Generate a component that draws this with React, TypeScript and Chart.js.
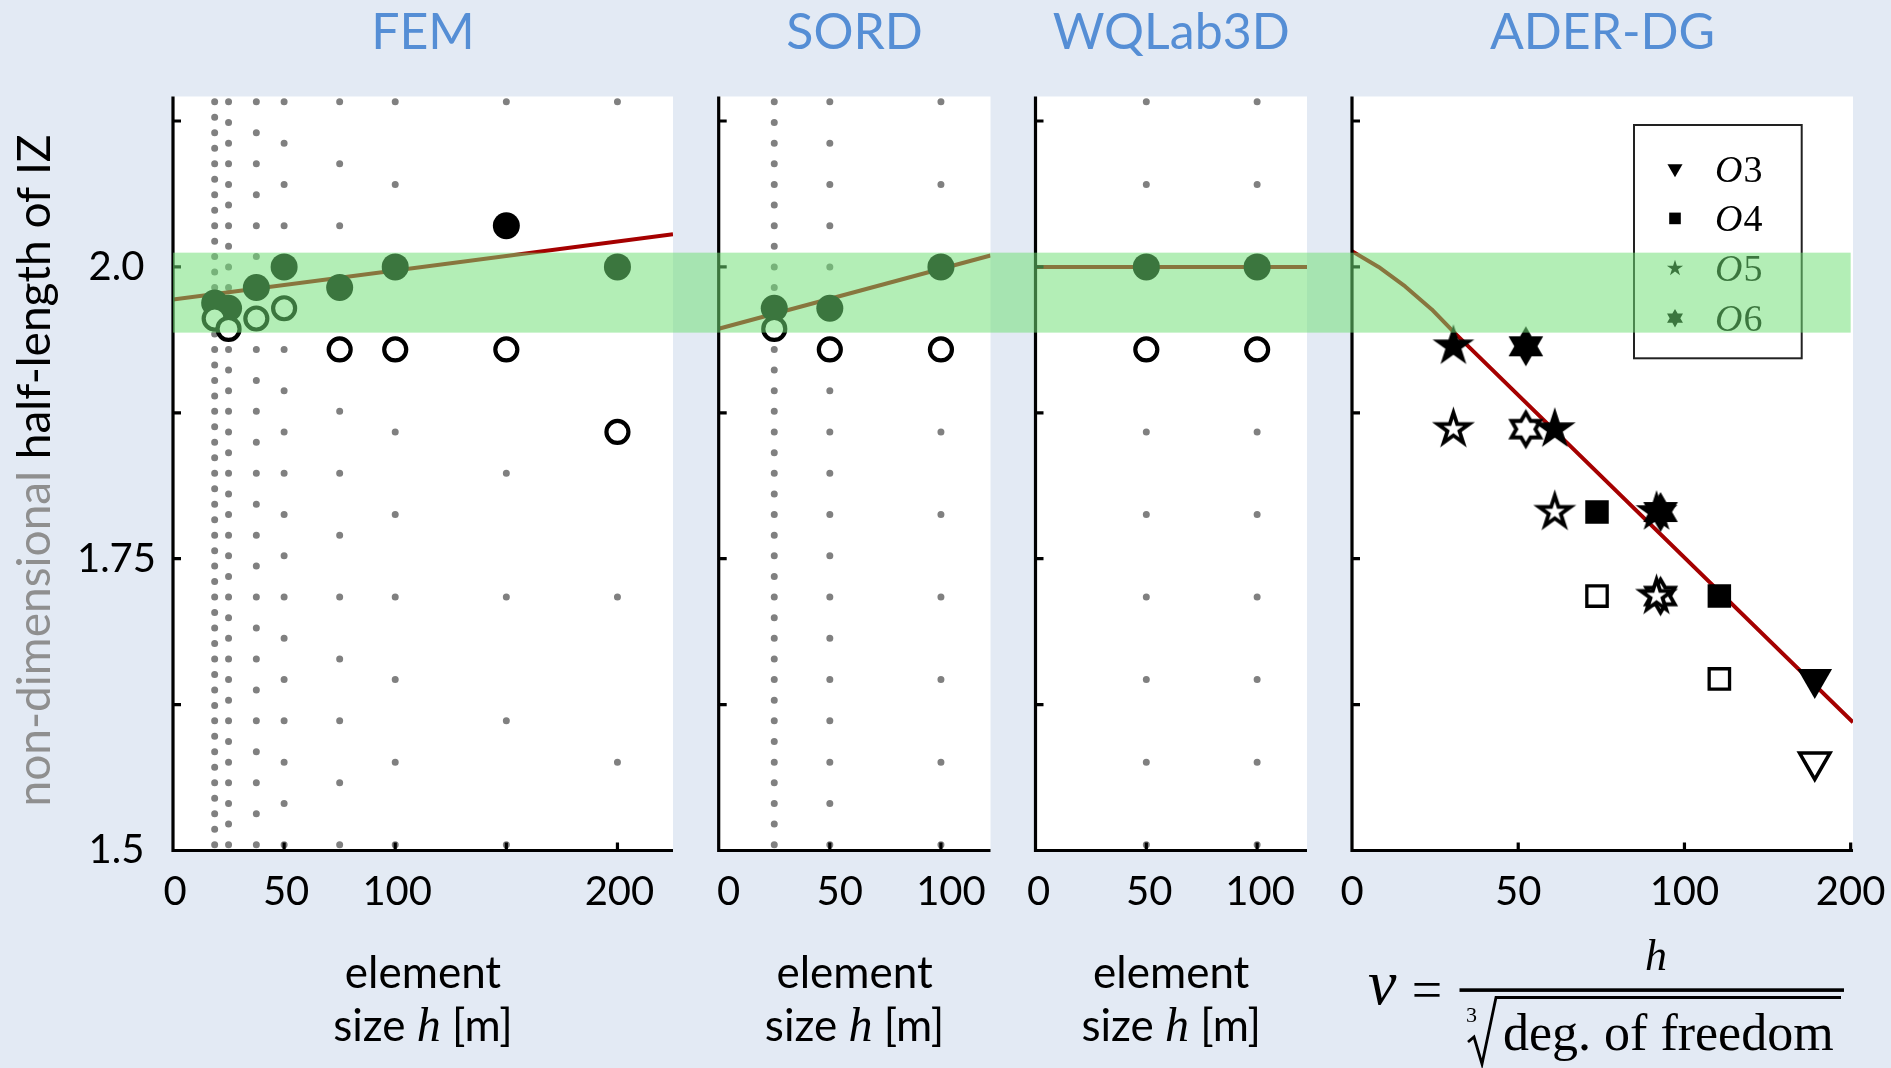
import React, { useEffect, useRef } from 'react';
import { Chart, registerables } from 'chart.js';

Chart.register(...registerables);

// ---------------- figure data ----------------
const Y_MIN = 1.5;
const Y_MAX = 2.146;
const Y_TICKS = [1.5, 1.625, 1.75, 1.875, 2.0, 2.125];
const Y_TICK_TEXT: Record<string, string> = { '1.5': '1.5', '1.75': '1.75', '2': '2.0' };
const IZ_BAND = [1.9437, 2.0122];

// mesh-node columns (dot spacing = grid step in metres)
const GRID_TOP = 2.1414;
const GRID_M_PER_UNIT = 1414.2;

// FEM
const FEM_H = [18.75, 25, 37.5, 50, 75, 100, 150, 200];
const FEM_FILLED = [1.969, 1.9646, 1.9823, 2.0, 1.9823, 2.0, 2.0353, 2.0];
const FEM_OPEN = [1.9558, 1.9469, 1.9558, 1.9646, 1.9293, 1.9293, 1.9293, 1.8586];
const FEM_GRID_STEP = [18.75, 25, 37.5, 50, 75, 100, 150, 200];
const FEM_FIT_X = [0, 225];
const FEM_FIT_Y = [1.972, 2.028];
const FEM_X_TICKS = [0, 50, 100, 150, 200];
const FEM_X_LABELS = ['0', '50', '100', '', '200'];

// SORD
const SORD_H = [25, 50, 100];
const SORD_FILLED = [1.9646, 1.9646, 2.0];
const SORD_OPEN = [1.9469, 1.9293, 1.9293];
const SORD_GRID_STEP = [25, 50, 100];
const SORD_FIT_X = [0, 122.3];
const SORD_FIT_Y = [1.947, 2.0098];
const SORD_X_TICKS = [0, 50, 100];
const SORD_X_LABELS = ['0', '50', '100'];

// WQLab3D
const WQ_H = [50, 100];
const WQ_FILLED = [2.0, 2.0];
const WQ_OPEN = [1.9293, 1.9293];
const WQ_GRID_STEP = [100, 100];
const WQ_FIT_X = [0, 122.5];
const WQ_FIT_Y = [2.0, 2.0];
const WQ_X_TICKS = [0, 50, 100];
const WQ_X_LABELS = ['0', '50', '100'];

// ADER-DG
const ADER_FIT_X = [0, 8, 16, 24, 31, 150.7];
const ADER_FIT_Y = [2.0135, 2.0, 1.9833, 1.9636, 1.943, 1.6098];
const ADER_O3_FILLED_X = [139.2];
const ADER_O3_FILLED_Y = [1.647];
const ADER_O3_OPEN_X = [139.2];
const ADER_O3_OPEN_Y = [1.576];
const ADER_O4_FILLED_X = [73.7, 110.5];
const ADER_O4_FILLED_Y = [1.79, 1.718];
const ADER_O4_OPEN_X = [73.7, 110.5];
const ADER_O4_OPEN_Y = [1.718, 1.647];
const ADER_O5_FILLED_X = [30.5, 61.0, 91.6];
const ADER_O5_FILLED_Y = [1.932, 1.861, 1.79];
const ADER_O5_OPEN_X = [30.5, 61.0, 91.6];
const ADER_O5_OPEN_Y = [1.861, 1.79, 1.718];
const ADER_O6_FILLED_X = [52.3, 92.8];
const ADER_O6_FILLED_Y = [1.932, 1.79];
const ADER_O6_OPEN_X = [52.3, 92.8];
const ADER_O6_OPEN_Y = [1.861, 1.718];
const ADER_X_TICKS = [0, 50, 100, 150];
const ADER_X_LABELS = ['0', '50', '100', '200'];
const ADER_BAND_END = 150;
const ADER_LEGEND = ['3', '4', '5', '6'];

// ---------------- styling ----------------
const PAGE_W = 1891;
const PAGE_H = 1068;
const AREA_TOP = 96.5;
const AREA_BOTTOM = 850.5;
const BG = '#e3eaf4';
const TITLE_COLOR = '#558ed5';
const FIT_COLOR = '#a50000';
const DOT_COLOR = '#808080';
const BAND_COLOR = 'rgba(111,223,117,0.53)';
const SANS = 'Lato, "Open Sans", "DejaVu Sans", sans-serif';
const SERIF = '"Liberation Serif", "DejaVu Serif", serif';

const pts = (xs: number[], ys: number[]) => xs.map((x, i) => ({ x, y: ys[i] }));

function gridColumns(xs: number[], steps: number[]) {
  return xs.map((x, i) => ({
    label: 'mesh',
    data: [{ x, y: GRID_TOP }, { x, y: Y_MIN }],
    showLine: true,
    pointRadius: 0,
    borderColor: DOT_COLOR,
    borderWidth: 7,
    borderCapStyle: 'round',
    borderDash: (ctx: any) => {
      const ys = ctx.chart && ctx.chart.scales && ctx.chart.scales.y;
      if (!ys) return [];
      const gap = Math.abs(
        ys.getPixelForValue(GRID_TOP) - ys.getPixelForValue(GRID_TOP - steps[i] / GRID_M_PER_UNIT)
      );
      return [0.001, gap - 0.001];
    },
    clip: false,
    order: 10,
  }));
}

function fitLine(xs: number[], ys: number[]) {
  return {
    label: 'fit',
    data: pts(xs, ys),
    showLine: true,
    pointRadius: 0,
    borderColor: FIT_COLOR,
    borderWidth: 4,
    borderJoinStyle: 'round',
    tension: 0,
    order: 8,
  };
}

function circles(xs: number[], ys: number[], filled: boolean) {
  return filled
    ? {
        label: 'filled',
        data: pts(xs, ys),
        pointStyle: 'circle',
        pointRadius: 13.5,
        pointBackgroundColor: '#000',
        pointBorderColor: '#000',
        pointBorderWidth: 0,
        order: 5,
      }
    : {
        label: 'open',
        data: pts(xs, ys),
        pointStyle: 'circle',
        pointRadius: 11,
        pointBackgroundColor: '#fff',
        pointBorderColor: '#000',
        pointBorderWidth: 4.2,
        order: 4,
      };
}

function starPath(g: CanvasRenderingContext2D, cx: number, cy: number, n: number, R: number, r: number) {
  g.beginPath();
  for (let i = 0; i < 2 * n; i++) {
    const rad = i % 2 === 0 ? R : r;
    const ang = -Math.PI / 2 + (i * Math.PI) / n;
    const px = cx + rad * Math.cos(ang);
    const py = cy + rad * Math.sin(ang);
    if (i === 0) g.moveTo(px, py);
    else g.lineTo(px, py);
  }
  g.closePath();
}

function markerCanvas(n: number, R: number, ratio: number, filled: boolean, lw: number) {
  const size = Math.ceil(2 * (R + lw * 2) + 4);
  const c = document.createElement('canvas');
  c.width = size;
  c.height = size;
  const g = c.getContext('2d')!;
  starPath(g, size / 2, size / 2, n, R, R * ratio);
  g.fillStyle = filled ? '#000' : '#fff';
  g.fill();
  if (!filled) {
    g.lineWidth = lw;
    g.strokeStyle = '#000';
    g.lineJoin = 'miter';
    g.miterLimit = 10;
    g.stroke();
  }
  return c;
}

function aderDatasets() {
  const star5F = markerCanvas(5, 22, 0.382, true, 0);
  const star5O = markerCanvas(5, 16.5, 0.382, false, 3.8);
  const hexF = markerCanvas(6, 20, 1 / Math.sqrt(3), true, 0);
  const hexO = markerCanvas(6, 16.5, 1 / Math.sqrt(3), false, 3.8);
  const img = (label: string, xs: number[], ys: number[], style: any, order: number) => ({
    label,
    data: pts(xs, ys),
    pointStyle: style,
    pointRadius: 12,
    order,
  });
  return [
    fitLine(ADER_FIT_X, ADER_FIT_Y),
    {
      label: 'O3 open',
      data: pts(ADER_O3_OPEN_X, ADER_O3_OPEN_Y),
      pointStyle: 'triangle',
      pointRotation: 180,
      pointRadius: 17.5,
      pointBackgroundColor: '#fff',
      pointBorderColor: '#000',
      pointBorderWidth: 3.6,
      order: 6,
    },
    {
      label: 'O3',
      data: pts(ADER_O3_FILLED_X, ADER_O3_FILLED_Y),
      pointStyle: 'triangle',
      pointRotation: 180,
      pointRadius: 20,
      pointBackgroundColor: '#000',
      pointBorderColor: '#000',
      pointBorderWidth: 0,
      order: 3,
    },
    {
      label: 'O4 open',
      data: pts(ADER_O4_OPEN_X, ADER_O4_OPEN_Y),
      pointStyle: 'rect',
      pointRadius: 14.4,
      pointBackgroundColor: '#fff',
      pointBorderColor: '#000',
      pointBorderWidth: 3.3,
      order: 6,
    },
    {
      label: 'O4',
      data: pts(ADER_O4_FILLED_X, ADER_O4_FILLED_Y),
      pointStyle: 'rect',
      pointRadius: 16.6,
      pointBackgroundColor: '#000',
      pointBorderColor: '#000',
      pointBorderWidth: 0,
      order: 3,
    },
    img('O6 open', ADER_O6_OPEN_X, ADER_O6_OPEN_Y, hexO, 7),
    img('O5 open', ADER_O5_OPEN_X, ADER_O5_OPEN_Y, star5O, 6),
    img('O6', ADER_O6_FILLED_X, ADER_O6_FILLED_Y, hexF, 3),
    img('O5', ADER_O5_FILLED_X, ADER_O5_FILLED_Y, star5F, 2),
  ];
}

type PanelDef = {
  id: string;
  title: string;
  canvasX: number;
  canvasW: number;
  areaLeft: number;
  areaRight: number;
  xMax: number;
  xTicks: number[];
  xLabels: string[];
  labelOffset: number;
  yLabels: boolean;
  yTitle?: boolean;
  xTitle?: boolean;
  ader?: boolean;
  bandFromArea?: boolean;
  bandEnd?: number;
  datasets: () => any[];
};

const PANELS: PanelDef[] = [
  {
    id: 'fem',
    title: 'FEM',
    canvasX: 0,
    canvasW: 696,
    areaLeft: 173,
    areaRight: 673,
    xMax: 225,
    xTicks: FEM_X_TICKS,
    xLabels: FEM_X_LABELS,
    labelOffset: 2,
    yLabels: true,
    yTitle: true,
    xTitle: true,
    bandFromArea: true,
    datasets: () => [
      ...gridColumns(FEM_H, FEM_GRID_STEP),
      fitLine(FEM_FIT_X, FEM_FIT_Y),
      circles(FEM_H, FEM_FILLED, true),
      circles(FEM_H, FEM_OPEN, false),
    ],
  },
  {
    id: 'sord',
    title: 'SORD',
    canvasX: 696,
    canvasW: 317,
    areaLeft: 718.7,
    areaRight: 990.5,
    xMax: 122.3,
    xTicks: SORD_X_TICKS,
    xLabels: SORD_X_LABELS,
    labelOffset: 10,
    yLabels: false,
    xTitle: true,
    datasets: () => [
      ...gridColumns(SORD_H, SORD_GRID_STEP),
      fitLine(SORD_FIT_X, SORD_FIT_Y),
      circles(SORD_H, SORD_FILLED, true),
      circles(SORD_H, SORD_OPEN, false),
    ],
  },
  {
    id: 'wq',
    title: 'WQLab3D',
    canvasX: 1013,
    canvasW: 317,
    areaLeft: 1035.5,
    areaRight: 1307,
    xMax: 122.5,
    xTicks: WQ_X_TICKS,
    xLabels: WQ_X_LABELS,
    labelOffset: 3,
    yLabels: false,
    xTitle: true,
    datasets: () => [
      ...gridColumns(WQ_H, WQ_GRID_STEP),
      fitLine(WQ_FIT_X, WQ_FIT_Y),
      circles(WQ_H, WQ_FILLED, true),
      circles(WQ_H, WQ_OPEN, false),
    ],
  },
  {
    id: 'ader',
    title: 'ADER-DG',
    canvasX: 1330,
    canvasW: 561,
    areaLeft: 1352,
    areaRight: 1853,
    xMax: 150.7,
    xTicks: ADER_X_TICKS,
    xLabels: ADER_X_LABELS,
    labelOffset: 0,
    yLabels: false,
    ader: true,
    bandEnd: ADER_BAND_END,
    datasets: aderDatasets,
  },
];

function drawYTitle(ctx: CanvasRenderingContext2D) {
  ctx.save();
  ctx.translate(50, 470.5);
  ctx.rotate(-Math.PI / 2);
  ctx.font = `46px ${SANS}`;
  ctx.textBaseline = 'alphabetic';
  ctx.textAlign = 'left';
  const a = 'non-dimensional ';
  const b = 'half-length of IZ';
  const wa = ctx.measureText(a).width;
  const wb = ctx.measureText(b).width;
  const x0 = -(wa + wb) / 2;
  ctx.fillStyle = '#8f8f8f';
  ctx.fillText(a, x0, 0);
  ctx.fillStyle = '#000';
  ctx.fillText(b, x0 + wa, 0);
  ctx.restore();
}

function drawXTitle(ctx: CanvasRenderingContext2D, cx: number) {
  ctx.save();
  ctx.fillStyle = '#000';
  ctx.textBaseline = 'alphabetic';
  ctx.textAlign = 'center';
  const f1 = `44px ${SANS}`;
  const f2 = `italic 48px ${SERIF}`;
  ctx.font = f1;
  ctx.fillText('element', cx, 988);
  const w1 = ctx.measureText('size ').width;
  const w3 = ctx.measureText(' [m]').width;
  ctx.font = f2;
  const w2 = ctx.measureText('h').width;
  let x = cx - (w1 + w2 + w3) / 2;
  ctx.textAlign = 'left';
  ctx.font = f1;
  ctx.fillText('size ', x, 1041);
  x += w1;
  ctx.font = f2;
  ctx.fillText('h', x, 1041);
  x += w2;
  ctx.font = f1;
  ctx.fillText(' [m]', x, 1041);
  ctx.restore();
}

function drawLegend(ctx: CanvasRenderingContext2D, a: any) {
  const bx = a.left + 282;
  const by = a.top + 28.5;
  const bw = 167.7;
  const bh = 233.3;
  ctx.save();
  ctx.fillStyle = '#fff';
  ctx.fillRect(bx, by, bw, bh);
  ctx.strokeStyle = '#222';
  ctx.lineWidth = 2;
  ctx.strokeRect(bx, by, bw, bh);
  ADER_LEGEND.forEach((lab, i) => {
    const cy = by + 43.5 + i * 49.9;
    const mx = bx + 41;
    ctx.fillStyle = '#000';
    if (i === 0) {
      const r = 8.7;
      ctx.beginPath();
      ctx.moveTo(mx - r * 0.866, cy - r / 2);
      ctx.lineTo(mx + r * 0.866, cy - r / 2);
      ctx.lineTo(mx, cy + r);
      ctx.closePath();
      ctx.fill();
    } else if (i === 1) {
      ctx.fillRect(mx - 5.8, cy - 5.8, 11.6, 11.6);
    } else if (i === 2) {
      starPath(ctx, mx, cy, 5, 8.5, 8.5 * 0.382);
      ctx.fill();
    } else {
      starPath(ctx, mx, cy, 6, 9.2, 9.2 / Math.sqrt(3));
      ctx.fill();
    }
    ctx.textAlign = 'left';
    ctx.textBaseline = 'alphabetic';
    ctx.font = `italic 38px ${SERIF}`;
    ctx.fillText('O', bx + 81, cy + 13);
    const w = ctx.measureText('O').width;
    ctx.font = `38px ${SERIF}`;
    ctx.fillText(lab, bx + 81 + w + 1, cy + 13);
  });
  ctx.restore();
}

function drawFormula(ctx: CanvasRenderingContext2D, canvasX: number) {
  const ox = -canvasX;
  ctx.save();
  ctx.fillStyle = '#000';
  ctx.strokeStyle = '#000';
  ctx.textBaseline = 'alphabetic';
  ctx.textAlign = 'left';
  ctx.font = `italic 64px ${SERIF}`;
  ctx.fillText('ν', 1368 + ox, 1004);
  ctx.font = `54px ${SERIF}`;
  ctx.textAlign = 'center';
  ctx.fillText('=', 1427 + ox, 1008);
  ctx.fillRect(1459.5 + ox, 988.3, 384.5, 3.6);
  ctx.font = `italic 44px ${SERIF}`;
  ctx.fillText('h', 1656 + ox, 970);
  ctx.textAlign = 'left';
  ctx.font = `22px ${SERIF}`;
  ctx.fillText('3', 1466 + ox, 1022);
  ctx.beginPath();
  ctx.moveTo(1468 + ox, 1042);
  ctx.lineTo(1474 + ox, 1037);
  ctx.lineTo(1482 + ox, 1064);
  ctx.lineTo(1496 + ox, 997.5);
  ctx.lineTo(1841 + ox, 997.5);
  ctx.lineWidth = 2.8;
  ctx.lineJoin = 'miter';
  ctx.stroke();
  ctx.font = `52px ${SERIF}`;
  ctx.fillText('deg. of freedom', 1503 + ox, 1050);
  ctx.restore();
}

function makeDecor(def: PanelDef) {
  return {
    id: 'decor_' + def.id,
    beforeDraw(chart: any) {
      const { ctx, chartArea: a } = chart;
      ctx.save();
      ctx.fillStyle = '#ffffff';
      ctx.fillRect(a.left, a.top, a.right - a.left, a.bottom - a.top);
      ctx.restore();
    },
    afterDraw(chart: any) {
      const { ctx, chartArea: a, scales } = chart;
      const xs = scales.x;
      const ys = scales.y;
      ctx.save();
      // axes with inward ticks
      ctx.strokeStyle = '#000';
      ctx.lineWidth = 3.2;
      ctx.lineCap = 'butt';
      ctx.beginPath();
      ctx.moveTo(a.left, a.top);
      ctx.lineTo(a.left, a.bottom + 1.6);
      ctx.moveTo(a.left - 1.6, a.bottom);
      ctx.lineTo(a.right, a.bottom);
      for (const t of ys.ticks) {
        const p = ys.getPixelForValue(t.value);
        ctx.moveTo(a.left, p);
        ctx.lineTo(a.left + 8, p);
      }
      for (const t of xs.ticks) {
        const p = xs.getPixelForValue(t.value);
        ctx.moveTo(p, a.bottom);
        ctx.lineTo(p, a.bottom - 8);
      }
      ctx.stroke();
      // panel title
      ctx.fillStyle = TITLE_COLOR;
      ctx.font = `50px ${SANS}`;
      ctx.textAlign = 'center';
      ctx.textBaseline = 'alphabetic';
      ctx.fillText(def.title, (a.left + a.right) / 2, 49);
      if (def.yTitle) drawYTitle(ctx);
      if (def.xTitle) drawXTitle(ctx, (a.left + a.right) / 2);
      if (def.ader) {
        drawLegend(ctx, a);
        drawFormula(ctx, def.canvasX);
      }
      // translucent IZ band over everything
      const yTop = ys.getPixelForValue(IZ_BAND[1]);
      const yBot = ys.getPixelForValue(IZ_BAND[0]);
      const x0 = def.bandFromArea ? a.left : 0;
      const x1 = def.bandEnd !== undefined ? xs.getPixelForValue(def.bandEnd) : chart.width;
      ctx.fillStyle = BAND_COLOR;
      ctx.fillRect(x0, yTop, x1 - x0, yBot - yTop);
      ctx.restore();
    },
  };
}

function buildConfig(def: PanelDef): any {
  const areaL = def.areaLeft - def.canvasX;
  const areaR = def.areaRight - def.canvasX;
  return {
    type: 'scatter',
    data: { datasets: def.datasets() },
    options: {
      responsive: false,
      animation: false,
      devicePixelRatio: 1,
      events: [],
      layout: { padding: { left: 0, right: def.canvasW - areaR, top: AREA_TOP, bottom: 0 } },
      plugins: { legend: { display: false }, tooltip: { enabled: false }, title: { display: false } },
      scales: {
        x: {
          type: 'linear',
          min: 0,
          max: def.xMax,
          grid: { display: false, drawTicks: false, tickLength: 0 },
          border: { display: false },
          afterBuildTicks: (s: any) => {
            s.ticks = def.xTicks.map((v) => ({ value: v }));
          },
          afterFit: (s: any) => {
            s.height = PAGE_H - AREA_BOTTOM;
            s.paddingLeft = 0;
            s.paddingRight = 0;
          },
          ticks: {
            autoSkip: false,
            maxRotation: 0,
            minRotation: 0,
            padding: 18,
            labelOffset: def.labelOffset,
            color: '#000',
            font: { family: SANS, size: 40 },
            callback: (_v: any, i: number) => def.xLabels[i],
          },
        },
        y: {
          type: 'linear',
          min: Y_MIN,
          max: Y_MAX,
          grid: { display: false, drawTicks: false, tickLength: 0 },
          border: { display: false },
          afterBuildTicks: (s: any) => {
            s.ticks = Y_TICKS.map((v) => ({ value: v }));
          },
          afterFit: (s: any) => {
            s.width = areaL;
            s.paddingTop = 0;
            s.paddingBottom = 0;
          },
          ticks: {
            display: def.yLabels,
            crossAlign: 'center',
            padding: 17,
            color: '#000',
            font: { family: SANS, size: 40 },
            callback: (v: any) => Y_TICK_TEXT[String(v)] ?? '',
          },
        },
      },
    },
    plugins: [makeDecor(def)],
  };
}

function Panel({ def }: { def: PanelDef }) {
  const ref = useRef<HTMLCanvasElement>(null);
  useEffect(() => {
    const chart = new Chart(ref.current as HTMLCanvasElement, buildConfig(def));
    return () => chart.destroy();
  }, [def]);
  return (
    <canvas
      ref={ref}
      width={def.canvasW}
      height={PAGE_H}
      style={{ position: 'absolute', left: def.canvasX, top: 0, width: def.canvasW, height: PAGE_H }}
    />
  );
}

export default function App() {
  return (
    <div
      style={{
        position: 'absolute',
        left: 0,
        top: 0,
        width: PAGE_W,
        height: PAGE_H,
        background: BG,
        overflow: 'hidden',
      }}
    >
      {PANELS.map((p) => (
        <Panel key={p.id} def={p} />
      ))}
    </div>
  );
}
